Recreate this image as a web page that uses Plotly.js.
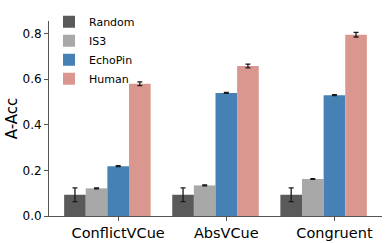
<!DOCTYPE html>
<html>
<head>
<meta charset="utf-8">
<script src="https://cdn.plot.ly/plotly-3.0.1.min.js"></script>
<style>html,body{margin:0;padding:0;background:#fff;}#chart{width:389px;height:243px;}</style>
</head>
<body>
<div id="chart"></div>
<script>
const categories = ["ConflictVCue", "AbsVCue", "Congruent"];
const seriesNames = ["Random", "IS3", "EchoPin", "Human"];
const randomVals = [0.093, 0.093, 0.093];
const randomErr = [0.030, 0.030, 0.030];
const is3Vals = [0.121, 0.134, 0.162];
const is3Err = [0.002, 0.002, 0.002];
const echoVals = [0.218, 0.539, 0.529];
const echoErr = [0.002, 0.002, 0.002];
const humanVals = [0.579, 0.657, 0.794];
const humanErr = [0.008, 0.008, 0.010];
const yTicks = [0, 0.2, 0.4, 0.6, 0.8];
const yTickText = ["0.0", "0.2", "0.4", "0.6", "0.8"];

const colors = ["#5a5a5a", "#a8a8a8", "#4581b4", "#da978f"];
const values = [randomVals, is3Vals, echoVals, humanVals];
const errs = [randomErr, is3Err, echoErr, humanErr];
const barW = 0.2;
const idx = categories.map((c, i) => i);

const traces = seriesNames.map((name, s) => ({
  type: "bar",
  name: name,
  x: idx,
  y: values[s],
  width: barW,
  offset: (s - 2) * barW - barW / 2,
  marker: {color: colors[s], line: {width: 0}},
  error_y: {type: "data", array: errs[s], visible: true, color: "#1a1a1a", thickness: 1.3, width: 2.5},
  hoverinfo: "skip"
}));

const layout = {
  width: 389, height: 243,
  margin: {l: 49, r: 7, t: 11, b: 27, pad: 0},
  paper_bgcolor: "#fff", plot_bgcolor: "#fff",
  barmode: "overlay",
  font: {family: "DejaVu Sans", color: "#000"},
  showlegend: true,
  legend: {x: 0.0, y: 1.07, xanchor: "left", yanchor: "top", bgcolor: "rgba(0,0,0,0)",
           font: {size: 11, family: "DejaVu Sans"}, traceorder: "normal"},
  xaxis: {
    range: [-0.64, 2.44], tickmode: "array", tickvals: idx, ticktext: categories,
    showgrid: false, zeroline: false, showline: true, linecolor: "#555", linewidth: 1,
    ticks: "outside", ticklen: 4, tickcolor: "#555", tickwidth: 1,
    tickfont: {size: 14.5, family: "DejaVu Sans"}
  },
  yaxis: {
    range: [0, 0.854], tickmode: "array", tickvals: yTicks, ticktext: yTickText,
    showgrid: false, zeroline: false, showline: true, linecolor: "#555", linewidth: 1,
    ticks: "outside", ticklen: 4, tickcolor: "#555", tickwidth: 1,
    tickfont: {size: 12, family: "DejaVu Sans"},
    title: {text: "A-Acc", font: {size: 15, family: "DejaVu Sans"}, standoff: 1}
  }
};

Plotly.newPlot("chart", traces, layout, {displayModeBar: false, staticPlot: true});
</script>
</body>
</html>
